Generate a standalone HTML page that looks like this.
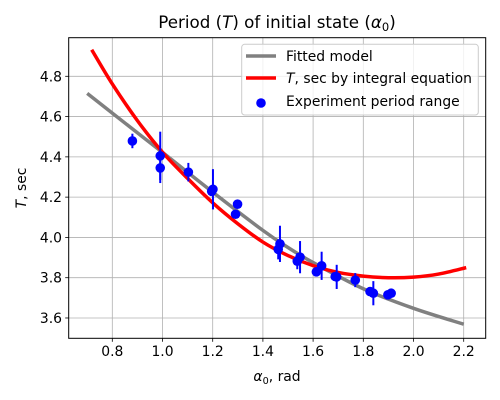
<!DOCTYPE html>
<html><head><meta charset="utf-8"><style>
body{margin:0;background:#fff}
svg{display:block;font-family:"DejaVu Sans","Liberation Sans",sans-serif}
</style></head><body>
<svg id="chart" width="500" height="400" viewBox="0 0 500 400" xmlns="http://www.w3.org/2000/svg">
<g id="grid"></g>
<g id="plot"></g>
<rect x="68.7" y="37.7" width="417" height="300.6" fill="none" stroke="#000" stroke-width="1"/>
<g id="ticks" font-size="13.9"></g>
<text x="277" y="28" text-anchor="middle" font-size="16.7">Period (<tspan font-style="italic">T</tspan>) of initial state (<tspan font-style="italic">α</tspan><tspan font-size="11.5" dy="3">0</tspan><tspan dy="-3">)</tspan></text>
<text x="277" y="381" text-anchor="middle" font-size="13.9"><tspan font-style="italic">α</tspan><tspan font-size="9.7" dy="3">0</tspan><tspan dy="-3">, rad</tspan></text>
<text transform="translate(26,188) rotate(-90)" text-anchor="middle" font-size="13.9"><tspan font-style="italic">T</tspan>, sec</text>
<g>
<rect x="241.7" y="44.3" width="236.6" height="70.7" rx="3" fill="#fff" fill-opacity="0.8" stroke="#ccc"/>
<line x1="246" y1="56" x2="276" y2="56" stroke="#808080" stroke-width="3.5"/>
<text x="286" y="61" font-size="13.9">Fitted model</text>
<line x1="246" y1="78" x2="276" y2="78" stroke="#ff0000" stroke-width="3.5"/>
<text x="286" y="83" font-size="13.9"><tspan font-style="italic">T</tspan>, sec by integral equation</text>
<circle cx="261" cy="103" r="4.8" fill="#0000ff"/>
<text x="286" y="106" font-size="13.9">Experiment period range</text>
</g>
</svg>
<script>
const xTicks=[0.8,1.0,1.2,1.4,1.6,1.8,2.0,2.2];
const yTicks=[3.6,3.8,4.0,4.2,4.4,4.6,4.8];
const fitX=[0.7,0.8,1.0,1.2,1.4,1.5,1.6,1.8,2.0,2.2];
const fitY=[4.715,4.617,4.422,4.225,4.035,3.95,3.875,3.745,3.648,3.569];
const intX=[0.718,0.8,0.9,1.0,1.1,1.2,1.3,1.4,1.5,1.6,1.7,1.8,1.9,2.0,2.1,2.21];
const intY=[4.932,4.762,4.58,4.423,4.293,4.172,4.068,3.977,3.91,3.86,3.826,3.808,3.80,3.803,3.818,3.85];
const expX=[0.88,0.991,0.991,1.103,1.201,1.196,1.299,1.291,1.468,1.461,1.548,1.537,1.634,1.613,1.694,1.688,1.768,1.827,1.840,1.898,1.911];
const expY=[4.479,4.405,4.345,4.324,4.239,4.229,4.165,4.115,3.968,3.941,3.902,3.882,3.859,3.829,3.804,3.806,3.788,3.731,3.723,3.715,3.723];
const expErr=[0.036,0.12,0.075,0.046,0.1,0.02,0,0,0.09,0.05,0.08,0.04,0.07,0.02,0.06,0.02,0.035,0,0.06,0,0];
const sx=v=>112.3+(v-0.8)*251;
const sy=v=>76.3-(v-4.8)*201.4;
const NS='http://www.w3.org/2000/svg';
function mk(tag,attrs,parent){const e=document.createElementNS(NS,tag);for(const k in attrs)e.setAttribute(k,attrs[k]);parent.appendChild(e);return e;}
const grid=document.getElementById('grid'),ticks=document.getElementById('ticks'),plot=document.getElementById('plot');
xTicks.forEach(t=>{
 const g=mk('line',{x1:sx(t),x2:sx(t),y1:37.7,y2:338.3,stroke:'#b0b0b0','stroke-width':0.8},grid);
 
 
 const tk=mk('line',{x1:sx(t),x2:sx(t),y1:338.3,y2:341.8,stroke:'#000','stroke-width':0.8},ticks);
 
 
 const l=mk('text',{x:sx(t),y:356,'text-anchor':'middle'},ticks);l.textContent=t.toFixed(1);
 
 
});
yTicks.forEach(t=>{
 const g=mk('line',{x1:68.7,x2:485.7,y1:sy(t),y2:sy(t),stroke:'#b0b0b0','stroke-width':0.8},grid);
 
 
 const tk=mk('line',{x1:65.2,x2:68.7,y1:sy(t),y2:sy(t),stroke:'#000','stroke-width':0.8},ticks);
 
 
 const l=mk('text',{x:62,y:sy(t)+5,'text-anchor':'end'},ticks);l.textContent=t.toFixed(1);
 
 
});
function smooth(xs,ys){
 const p=xs.map((x,i)=>[sx(x),sy(ys[i])]);let d='M'+p[0][0]+','+p[0][1];
 for(let i=0;i<p.length-1;i++){const p0=p[i-1]||p[i],p1=p[i],p2=p[i+1],p3=p[i+2]||p2;
  d+=' C'+(p1[0]+(p2[0]-p0[0])/6)+','+(p1[1]+(p2[1]-p0[1])/6)+' '+(p2[0]-(p3[0]-p1[0])/6)+','+(p2[1]-(p3[1]-p1[1])/6)+' '+p2[0]+','+p2[1];}
 return d;}
const fit=mk('path',{d:smooth(fitX,fitY),fill:'none',stroke:'#808080','stroke-width':3.5},plot);


const integ=mk('path',{d:smooth(intX,intY),fill:'none',stroke:'#ff0000','stroke-width':3.5},plot);


expX.forEach((x,i)=>{
 if(expErr[i]>0){const e=mk('line',{x1:sx(x),x2:sx(x),y1:sy(expY[i]+expErr[i]),y2:sy(expY[i]-expErr[i]),stroke:'#0000ff','stroke-width':2},plot);
 
 }
 const c=mk('circle',{cx:sx(x),cy:sy(expY[i]),r:4.8,fill:'#0000ff'},plot);
 
 
});
</script>
</body></html>
